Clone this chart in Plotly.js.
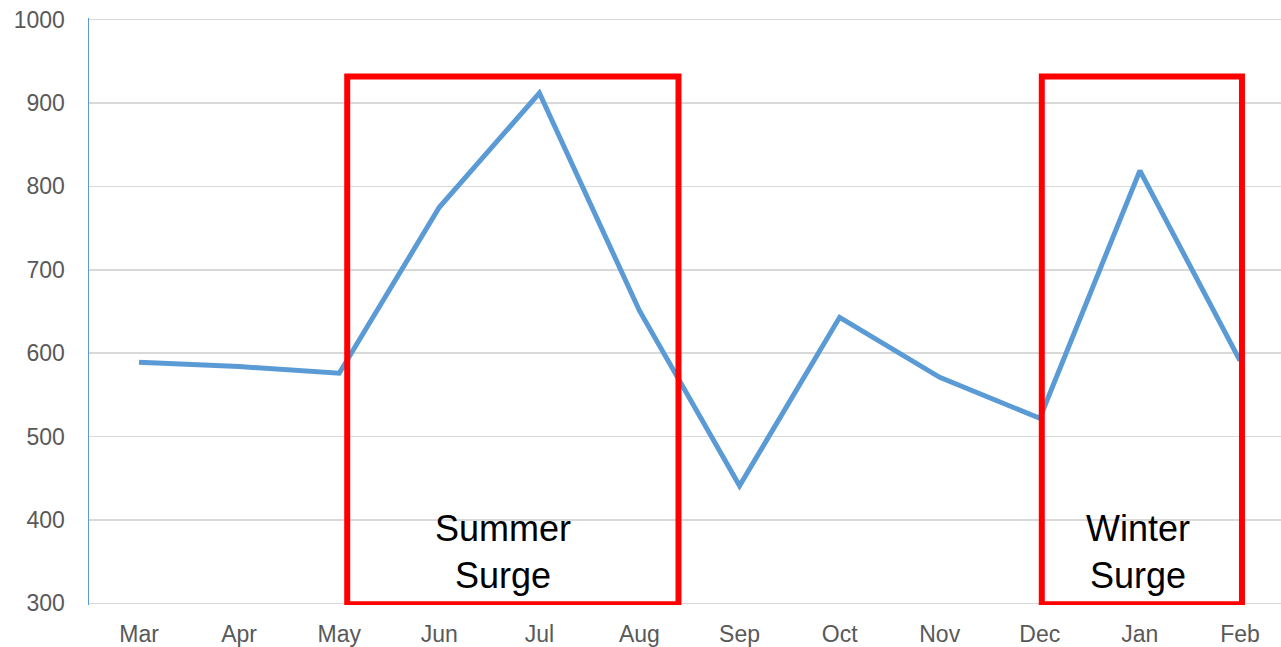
<!DOCTYPE html>
<html><head><meta charset="utf-8">
<script src="https://cdn.plot.ly/plotly-3.0.1.min.js"></script>
<style>html,body{margin:0;padding:0;background:#fff;}#chart{width:1281px;height:647px;}</style>
</head><body><div id="chart"></div>
<script>
const months = ["Mar","Apr","May","Jun","Jul","Aug","Sep","Oct","Nov","Dec","Jan","Feb"];
const values = [589, 584, 576, 775, 912, 651, 441, 643, 571, 522, 819, 591];
const yTicks = [300, 400, 500, 600, 700, 800, 900, 1000];
const boxLabels = ["Summer<br>Surge", "Winter<br>Surge"];

const trace = {
  x: months, y: values, type: "scatter", mode: "lines",
  line: {color: "#5B9BD5", width: 5}, hoverinfo: "x+y"
};
const layout = {
  width: 1281, height: 647,
  margin: {l: 89, r: 0, t: 18, b: 42},
  paper_bgcolor: "#fff", plot_bgcolor: "#fff",
  showlegend: false,
  font: {family: "Liberation Sans, Arial, sans-serif", color: "#595959", size: 23},
  xaxis: {
    type: "category", range: [-0.5, 11.41],
    showgrid: false, zeroline: false, showline: false,
    ticks: "", ticklabelstandoff: 13,
    tickfont: {size: 23, color: "#595959"}
  },
  yaxis: {
    range: [298, 1002], tickvals: yTicks,
    showgrid: true, gridcolor: "#D9D9D9", gridwidth: 1.5,
    zeroline: false, showline: true, linecolor: "#5B9BD5", linewidth: 1.5,
    ticks: "", ticklabelstandoff: 18,
    tickfont: {size: 23, color: "#595959"}
  },
  shapes: [
    {type: "rect", xref: "x", yref: "y", x0: 2.08, x1: 5.39, y0: 298.8, y1: 931.7,
     line: {color: "#FF0000", width: 6}, fillcolor: "rgba(0,0,0,0)"},
    {type: "rect", xref: "x", yref: "y", x0: 9.02, x1: 11.02, y0: 298.8, y1: 931.7,
     line: {color: "#FF0000", width: 6}, fillcolor: "rgba(0,0,0,0)"}
  ],
  annotations: [
    {xref: "x", yref: "y", x: 3.635, y: 362, text: boxLabels[0], showarrow: false,
     xanchor: "center", yanchor: "middle", font: {size: 36, color: "#000"}},
    {xref: "x", yref: "y", x: 9.98, y: 362, text: boxLabels[1], showarrow: false,
     xanchor: "center", yanchor: "middle", font: {size: 36, color: "#000"}}
  ]
};
Plotly.newPlot("chart", [trace], layout, {displayModeBar: false, staticPlot: true});
</script></body></html>
